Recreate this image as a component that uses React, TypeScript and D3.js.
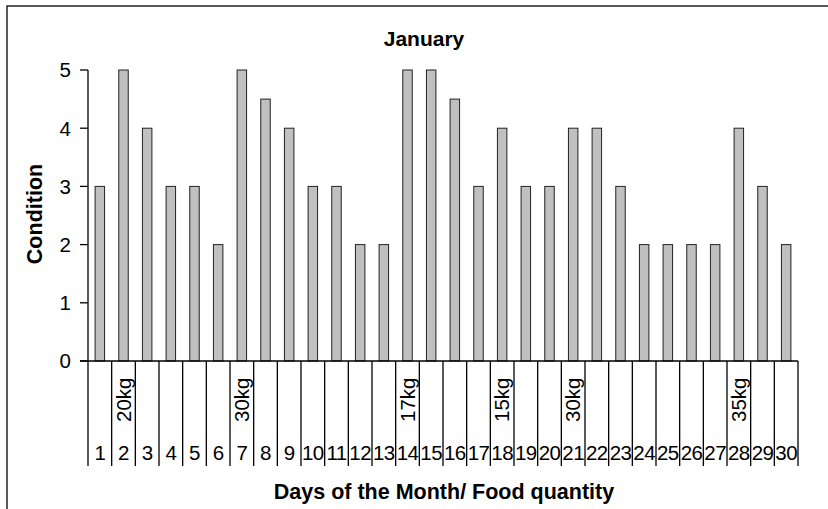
import React from "react";
import * as d3 from "d3";

const days = d3.range(1, 31).map(String);
const conditionValues = [3, 5, 4, 3, 3, 2, 5, 4.5, 4, 3, 3, 2, 2, 5, 5, 4.5, 3, 4, 3, 3, 4, 4, 3, 2, 2, 2, 2, 4, 3, 2];
const foodLabels: { day: string; label: string }[] = [
  { day: "2", label: "20kg" },
  { day: "7", label: "30kg" },
  { day: "14", label: "17kg" },
  { day: "18", label: "15kg" },
  { day: "21", label: "30kg" },
  { day: "28", label: "35kg" },
];
const yTicks = [0, 1, 2, 3, 4, 5];

const W = 828;
const H = 509;
const left = 88;
const right = 798;
const top = 70;
const bottom = 361;
const catBottom = 466;
const font = "'Liberation Sans', Arial, sans-serif";

export default function App() {
  const x = d3.scaleBand<string>().domain(days).range([left, right]).padding(0);
  const y = d3.scaleLinear().domain([0, 5]).range([bottom, top]);
  const bw = x.bandwidth() * 0.4;

  return (
    <svg
      width={W}
      height={H}
      style={{ position: "absolute", left: 0, top: 0, background: "#fff" }}
    >
      <rect x={0} y={0} width={W} height={H} fill="#fff" />
      <rect x={7} y={6} width={W + 20} height={H + 20} fill="none" stroke="#000" strokeWidth={1.3} />
      <text x={424} y={46} textAnchor="middle" fontFamily={font} fontWeight="bold" fontSize={21}>
        January
      </text>
      {/* bars */}
      {conditionValues.map((v, i) => {
        const cx = (x(days[i]) as number) + x.bandwidth() / 2;
        return (
          <rect
            key={i}
            x={cx - bw / 2}
            y={y(v)}
            width={bw}
            height={y(0) - y(v)}
            fill="#c0c0c0"
            stroke="#222"
            strokeWidth={1}
          />
        );
      })}
      {/* y axis */}
      <line x1={left} x2={left} y1={top} y2={catBottom} stroke="#000" strokeWidth={1.3} />
      {yTicks.map((t) => (
        <g key={t}>
          <line x1={left - 8} x2={left} y1={y(t)} y2={y(t)} stroke="#000" strokeWidth={1.3} />
          <text
            x={left - 17}
            y={y(t)}
            dy="0.36em"
            textAnchor="end"
            fontFamily={font}
            fontSize={20.5}
          >
            {t}
          </text>
        </g>
      ))}
      {/* x axis */}
      <line x1={left - 8} x2={right} y1={bottom} y2={bottom} stroke="#000" strokeWidth={1.3} />
      {days.map((d, i) => {
        const x0 = x(d) as number;
        return (
          <g key={d}>
            <line
              x1={x0 + x.bandwidth()}
              x2={x0 + x.bandwidth()}
              y1={bottom}
              y2={catBottom}
              stroke="#000"
              strokeWidth={1.3}
            />
            <text
              x={x0 + x.bandwidth() / 2}
              y={460}
              textAnchor="middle"
              fontFamily={font}
              fontSize={20.5}
              letterSpacing={-0.6}
            >
              {d}
            </text>
          </g>
        );
      })}
      {foodLabels.map((f) => {
        const cx = (x(f.day) as number) + x.bandwidth() / 2 + 7;
        return (
          <text
            key={f.day}
            transform={`translate(${cx},422) rotate(-90)`}
            fontFamily={font}
            fontSize={20.5}
          >
            {f.label}
          </text>
        );
      })}
      <text
        x={444}
        y={499}
        textAnchor="middle"
        fontFamily={font}
        fontWeight="bold"
        fontSize={21.5}
      >
        Days of the Month/ Food quantity
      </text>
      <text
        transform="translate(42,214) rotate(-90)"
        textAnchor="middle"
        fontFamily={font}
        fontWeight="bold"
        fontSize={21.5}
      >
        Condition
      </text>
    </svg>
  );
}
